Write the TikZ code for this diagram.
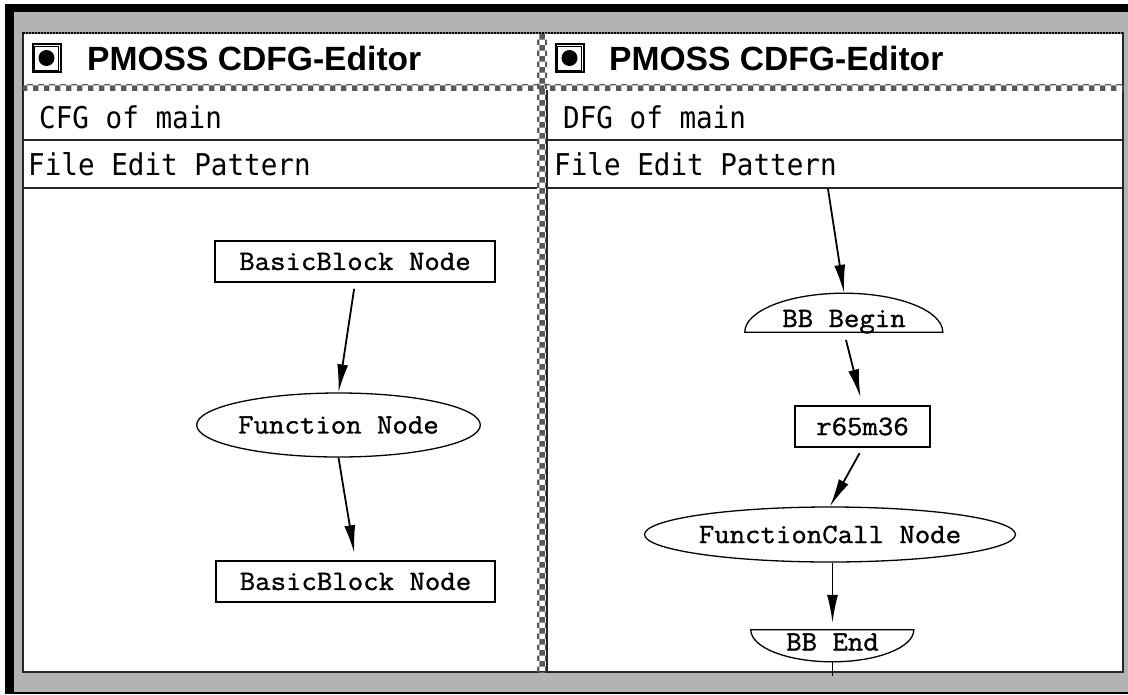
\documentclass[tikz,border=0pt]{standalone}
\usepackage{fontspec}
\usetikzlibrary{arrows.meta,shapes.geometric,patterns}
\newfontfamily\titlefont{Liberation Sans}
\newfontfamily\uimono{DejaVu Sans Mono}[FakeStretch=0.92]
\newfontfamily\graphfont{Latin Modern Mono}[FakeStretch=1.07,FakeBold=1.2]
\definecolor{wingray}{RGB}{179,179,179}

\tikzset{
  frameline/.style={line width=2pt, black!85},
  checker/.style={fill=black!20, pattern=checkerboard, pattern color=black!65},
  titletext/.style={inner sep=0pt, anchor=base west, font=\titlefont\bfseries\fontsize{33.6}{34}\selectfont},
  uitext/.style={inner sep=0pt, anchor=base west, font=\uimono\fontsize{30}{30}\selectfont},
  checkbox/.style={draw, line width=2pt, minimum size=28pt, inner sep=0pt},
  gfont/.style={font=\graphfont\fontsize{28}{28}\selectfont},
  blockbox/.style={gfont, draw, line width=1.8pt, rectangle, minimum height=41pt, inner sep=0pt},
  oval/.style={gfont, draw, line width=1.3pt, ellipse, inner sep=0pt},
  capshape/.style={gfont, inner sep=0pt, text depth=0pt},
  edge/.style={line width=1.8pt},
  arr/.style={edge, -{Latex[length=28pt,width=11pt]}},
}

\begin{document}
\begin{tikzpicture}[x=1pt, y=-1pt]
  \useasboundingbox (0,0) rectangle (1128,694);
  % screen frame
  \fill[white] (0,0) rectangle (1128,694);
  \fill[black] (5,4) rectangle (1128,694);
  \fill[wingray] (14,12) rectangle (1128,692);
  \fill[white] (23,33) rectangle (1123,672);
  \draw[frameline] (23,33) rectangle (1123,672);
  \draw[line width=2.2pt, black!50] (23,33) -- (1123,33);
  \draw[line width=2.2pt, black, dash pattern=on 1.5pt off 1.5pt] (23,33) -- (1123,33);

  % title bar stripe and window separator
  \fill[checker] (23,84) rectangle (1123,90);
  \fill[checker] (537,33) rectangle (547,672);
  \draw[frameline] (547,90) -- (547,672);

  % row separators
  \foreach \yy in {140,188} {
    \draw[frameline] (23,\yy) -- (537,\yy);
    \draw[frameline] (547,\yy) -- (1123,\yy);
  }

  % left window header
  \node[checkbox] (lcheck) at (46.5,58) {};
  \draw[line width=1pt] ([shift={(3pt,-3pt)}]lcheck.north west) rectangle ([shift={(-3pt,3pt)}]lcheck.south east);
  \fill (lcheck.center) circle[radius=8pt];
  \node[titletext] (ltitle) at (87,70) {PMOSS CDFG-Editor};
  \node[uitext] (lgraph) at (39,128) {CFG of main};
  \node[uitext] (lmenu) at (28,175) {File Edit Pattern};

  % right window header
  \node[checkbox] (rcheck) at (569.5,58) {};
  \draw[line width=1pt] ([shift={(3pt,-3pt)}]rcheck.north west) rectangle ([shift={(-3pt,3pt)}]rcheck.south east);
  \fill (rcheck.center) circle[radius=8pt];
  \node[titletext] (rtitle) at (609,70) {PMOSS CDFG-Editor};
  \node[uitext] (rgraph) at (563,128) {DFG of main};
  \node[uitext] (rmenu) at (554,175) {File Edit Pattern};

  % control flow graph
  \node[blockbox, minimum width=280pt] (bbtop) at (355,261.5) {BasicBlock Node};
  \node[oval, minimum width=263pt, minimum height=64pt] (fn) at (338.5,425) {Function Node};
  \node[blockbox, minimum width=279pt] (bbbot) at (355.5,581.5) {BasicBlock Node};
  \draw[arr, shorten <=6pt] (bbtop.south) -- (fn.north);
  \draw[arr, shorten >=7pt] (fn.south) -- (bbbot.north);

  % data flow graph
  \coordinate (feed) at (828,189);
  \node[capshape, minimum width=198pt, minimum height=39pt, text height=29pt] (bbbegin) at (844,312.5) {BB Begin};
  \draw[line width=1.3pt] (bbbegin.south west) arc[start angle=180, end angle=0, x radius=99pt, y radius=39pt] -- cycle;
  \node[blockbox, minimum width=135pt] (reg) at (862.5,426.5) {r65m36};
  \node[oval, minimum width=326pt, minimum height=55pt] (fcall) at (830,534.5) {FunctionCall Node};
  \node[capshape, minimum width=163pt, minimum height=32pt, text height=9pt] (bbend) at (832.5,646) {BB End};
  \draw[line width=1.3pt] (bbend.north west) arc[start angle=180, end angle=360, x radius=81.5pt, y radius=32pt] -- cycle;
  \coordinate (tail) at (832.5,676);

  \draw[arr] (feed) -- (bbbegin.north);
  \draw[arr, shorten <=8pt, shorten >=8pt] (bbbegin.south) -- (reg.north);
  \draw[arr, shorten <=6pt] (reg.south) -- (fcall.north);
  \draw[arr, shorten >=7pt] (fcall.south -| bbend.north) -- (bbend.north);
  \draw[edge] (bbend.south) -- (tail);
\end{tikzpicture}
\end{document}
